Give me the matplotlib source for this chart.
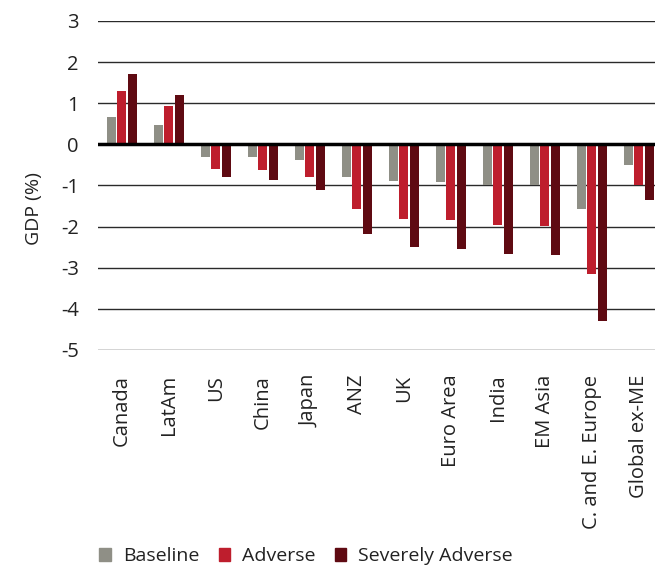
import matplotlib
matplotlib.use('Agg')
import matplotlib.pyplot as plt
from matplotlib.patches import Patch
import numpy as np

regions = ['Canada', 'LatAm', 'US', 'China', 'Japan', 'ANZ', 'UK',
           'Euro Area', 'India', 'EM Asia', 'C. and E. Europe', 'Global ex-ME']
baseline = [0.66, 0.46, -0.31, -0.31, -0.39, -0.79, -0.89, -0.91, -0.99, -0.99, -1.57, -0.50]
adverse = [1.29, 0.92, -0.61, -0.63, -0.80, -1.57, -1.81, -1.84, -1.97, -1.99, -3.15, -0.99]
severe = [1.72, 1.21, -0.80, -0.87, -1.12, -2.18, -2.49, -2.54, -2.66, -2.69, -4.29, -1.35]
series_names = ['Baseline', 'Adverse', 'Severely Adverse']
colors = ['#8f8f86', '#be1e2d', '#5f0a12']

plt.rcParams['font.family'] = ['Open Sans', 'DejaVu Sans']
plt.rcParams['axes.unicode_minus'] = False

fig = plt.figure(figsize=(6.55, 5.67), dpi=100)
ax = fig.add_axes([0.150, 0.383, 0.861, 0.580])

x = np.arange(len(regions))
w = 0.19
off = 0.225
for k, vals in enumerate([baseline, adverse, severe]):
    ax.bar(x + (k - 1) * off, vals, width=w, color=colors[k], zorder=3)

ax.set_xlim(-0.5, 11.5)
ax.set_ylim(-5, 3)
ax.set_yticks(range(-5, 4))
ax.yaxis.grid(True, color='#2a2a2a', linewidth=1.0, zorder=0)
ax.axhline(0, color='black', linewidth=2.5, zorder=4)
for s in ax.spines.values():
    s.set_visible(False)

ax.set_xticks(x)
ax.set_xticklabels(regions, rotation=90, va='top', ha='center')
ax.tick_params(axis='x', length=0, pad=18, labelsize=14.5, colors='#222222')
ax.tick_params(axis='y', length=0, pad=14, labelsize=14.5, colors='#222222')
ax.set_ylabel('GDP (%)', fontsize=14, color='#222222')
ax.yaxis.set_label_coords(-0.098, 0.43)

handles = [Patch(color=c) for c in colors]
fig.legend(handles, series_names, loc='lower left', bbox_to_anchor=(0.125, -0.028),
           ncol=3, frameon=False, fontsize=14, handlelength=0.6, handleheight=0.6,
           handletextpad=0.6, columnspacing=1.0, labelcolor='#222222')

fig.savefig('out.png', dpi=100)
